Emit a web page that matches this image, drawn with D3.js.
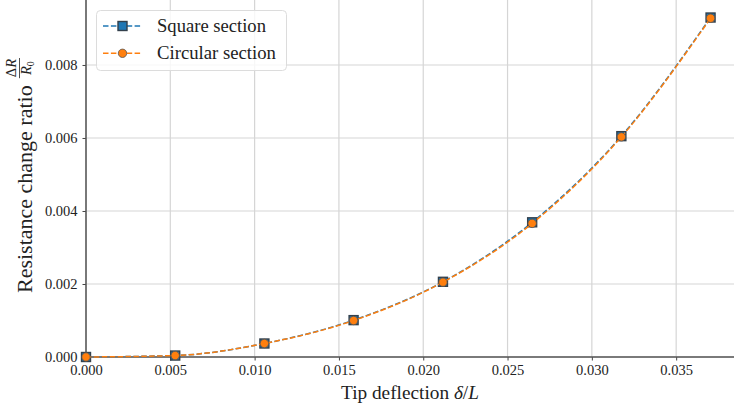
<!DOCTYPE html>
<html>
<head>
<meta charset="utf-8">
<script src="https://cdn.jsdelivr.net/npm/d3@7"></script>
<style>
  html, body { margin: 0; padding: 0; background: #fff; }
  svg { display: block; font-family: "Liberation Serif", "DejaVu Serif", serif; }
</style>
</head>
<body>
<script>
(function () {
  'use strict';

  // data
  var deflection = [0, 0.00529, 0.01058, 0.01587, 0.02117, 0.02646, 0.03175, 0.03704];
  var squareRatio = [0, 0.00004, 0.00037, 0.00101, 0.00206, 0.00369, 0.00605, 0.00930];
  var circularRatio = [0, 0.00004, 0.00037, 0.00100, 0.00205, 0.00366, 0.00603, 0.00928];
  var xTicks = [0, 0.005, 0.010, 0.015, 0.020, 0.025, 0.030, 0.035];
  var yTicks = [0, 0.002, 0.004, 0.006, 0.008];
  var seriesNames = ['Square section', 'Circular section'];

  var W = 734, H = 408,
    left = 86, right = 734, top = 0, bottom = 357;

  var svgEl = d3.select('body').append('svg')
    .attr('width', W)
    .attr('height', H);

  var x = d3.scaleLinear().domain([0, 0.03843]).range([left, right]);
  var y = d3.scaleLinear().domain([0, 0.00978]).range([bottom, top]);

  var fmt = d3.format('.3f');

  // shrink/grow a text so it spans the width the reference shows
  function fitText(sel, target) {
    var fs = +sel.attr('font-size');
    var w = sel.node().getComputedTextLength();
    sel.attr('font-size', fs * target / w);
  }

  // grid
  var grid = svgEl.append('g');
  grid.selectAll('line.gx')
    .data(xTicks)
    .enter().append('line')
    .attr('x1', function (d) { return x(d); })
    .attr('x2', function (d) { return x(d); })
    .attr('y1', top).attr('y2', bottom)
    .attr('stroke', '#d5d5d5').attr('stroke-width', 1.2);
  grid.selectAll('line.gy')
    .data(yTicks)
    .enter().append('line')
    .attr('y1', function (d) { return y(d); })
    .attr('y2', function (d) { return y(d); })
    .attr('x1', left).attr('x2', right)
    .attr('stroke', '#d5d5d5').attr('stroke-width', 1.2);

  // axes
  var xAxis = svgEl.append('g')
    .attr('transform', 'translate(0,' + bottom + ')')
    .call(d3.axisBottom(x).tickValues(xTicks).tickFormat(fmt).tickSize(3.5).tickPadding(4));
  var yAxis = svgEl.append('g')
    .attr('transform', 'translate(' + left + ',0)')
    .call(d3.axisLeft(y).tickValues(yTicks).tickFormat(fmt).tickSize(3.5).tickPadding(5));

  [xAxis, yAxis].forEach(function (a) {
    a.select('.domain').remove();
    a.selectAll('.tick line').attr('stroke', '#444').attr('stroke-width', 1);
    a.selectAll('.tick text')
      .attr('font-family', '"Liberation Serif", serif')
      .attr('font-size', 14.5)
      .attr('fill', '#222');
  });
  yAxis.selectAll('.tick text').attr('dy', '0.34em');

  // spines
  svgEl.append('line')
    .attr('x1', left).attr('x2', left).attr('y1', top).attr('y2', bottom)
    .attr('stroke', '#555').attr('stroke-width', 1.5);
  svgEl.append('line')
    .attr('x1', left).attr('x2', right).attr('y1', bottom).attr('y2', bottom)
    .attr('stroke', '#555').attr('stroke-width', 1.5);

  // series
  var line = d3.line()
    .x(function (d) { return x(d[0]); })
    .y(function (d) { return y(d[1]); })
    .curve(d3.curveMonotoneX);

  var squarePts = d3.zip(deflection, squareRatio);
  var circPts = d3.zip(deflection, circularRatio);

  svgEl.append('path')
    .datum(squarePts)
    .attr('d', line)
    .attr('fill', 'none')
    .attr('stroke', '#1f77b4')
    .attr('stroke-width', 1.5)
    .attr('stroke-dasharray', '5.5,2.4');

  svgEl.selectAll('rect.sq')
    .data(squarePts)
    .enter().append('rect')
    .attr('x', function (d) { return x(d[0]) - 4.5; })
    .attr('y', function (d) { return y(d[1]) - 4.5; })
    .attr('width', 9).attr('height', 9)
    .attr('fill', '#1f77b4')
    .attr('stroke', '#33404c')
    .attr('stroke-width', 1.4);

  svgEl.append('path')
    .datum(circPts)
    .attr('d', line)
    .attr('fill', 'none')
    .attr('stroke', '#ff7f0e')
    .attr('stroke-width', 1.5)
    .attr('stroke-dasharray', '5.5,2.4');

  svgEl.selectAll('circle.ci')
    .data(circPts)
    .enter().append('circle')
    .attr('cx', function (d) { return x(d[0]); })
    .attr('cy', function (d) { return y(d[1]); })
    .attr('r', 4.2)
    .attr('fill', '#ff7f0e')
    .attr('stroke', '#555')
    .attr('stroke-width', 0.8);

  // legend
  var lg = svgEl.append('g');
  lg.append('rect')
    .attr('x', 96.5).attr('y', 10.5)
    .attr('width', 190).attr('height', 60)
    .attr('rx', 4)
    .attr('fill', 'rgba(255,255,255,0.8)')
    .attr('stroke', '#dcdcdc')
    .attr('stroke-width', 1);

  var rows = lg.selectAll('g.row')
    .data(seriesNames)
    .enter().append('g')
    .attr('transform', function (d, i) { return 'translate(0,' + (26 + i * 27.3) + ')'; });

  rows.append('line')
    .attr('x1', 103).attr('x2', 142)
    .attr('stroke', function (d, i) { return i === 0 ? '#1f77b4' : '#ff7f0e'; })
    .attr('stroke-width', 1.5)
    .attr('stroke-dasharray', '5.5,2.4');

  rows.each(function (d, i) {
    var g = d3.select(this);
    if (i === 0) {
      g.append('rect')
        .attr('x', 118).attr('y', -4.5).attr('width', 9).attr('height', 9)
        .attr('fill', '#1f77b4').attr('stroke', '#33404c').attr('stroke-width', 1.4);
    } else {
      g.append('circle')
        .attr('cx', 122.5).attr('cy', 0).attr('r', 4.2)
        .attr('fill', '#ff7f0e').attr('stroke', '#555').attr('stroke-width', 0.8);
    }
  });

  var legendWidths = [109, 119];
  rows.append('text')
    .attr('x', 157)
    .attr('dy', '0.33em')
    .attr('font-size', 17.5)
    .attr('fill', '#222')
    .text(function (d) { return d; })
    .each(function (d, i) { fitText(d3.select(this), legendWidths[i]); });

  // x label
  var xl = svgEl.append('text')
    .attr('x', (left + right) / 2)
    .attr('y', 399)
    .attr('text-anchor', 'middle')
    .attr('font-size', 19)
    .attr('fill', '#222');
  xl.append('tspan').text('Tip deflection ');
  xl.append('tspan').attr('font-style', 'italic').text('δ');
  xl.append('tspan').text('/');
  xl.append('tspan').attr('font-style', 'italic').text('L');
  fitText(xl, 138);

  // y label with fraction (rotated; rotated x runs upward on the page)
  var labelStart = 293, labelEnd = 58;
  var yl = svgEl.append('g')
    .attr('transform', 'translate(32,0) rotate(-90)');
  var frac = yl.append('g');
  var num = frac.append('text')
    .attr('y', -16)
    .attr('font-size', 14.5)
    .attr('fill', '#222')
    .attr('text-anchor', 'middle');
  num.append('tspan').text('Δ');
  num.append('tspan').attr('font-style', 'italic').text('R');
  var den = frac.append('text')
    .attr('y', -1)
    .attr('font-size', 14.5)
    .attr('fill', '#222')
    .attr('text-anchor', 'middle');
  den.append('tspan').attr('font-style', 'italic').text('R');
  den.append('tspan').attr('font-size', 10).attr('dy', 2.5).text('0');
  var fw = Math.max(num.node().getComputedTextLength(), den.node().getComputedTextLength()) + 2;
  var fracLeft = -labelEnd - fw;
  num.attr('x', fracLeft + fw / 2);
  den.attr('x', fracLeft + fw / 2);
  frac.append('line')
    .attr('x1', fracLeft).attr('x2', fracLeft + fw)
    .attr('y1', -12.5).attr('y2', -12.5)
    .attr('stroke', '#222').attr('stroke-width', 0.8);

  var main = yl.append('text')
    .attr('x', -labelStart)
    .attr('font-size', 19)
    .attr('fill', '#222')
    .text('Resistance change ratio');
  fitText(main, labelStart - labelEnd - fw - 7);
}());
</script>
</body>
</html>
